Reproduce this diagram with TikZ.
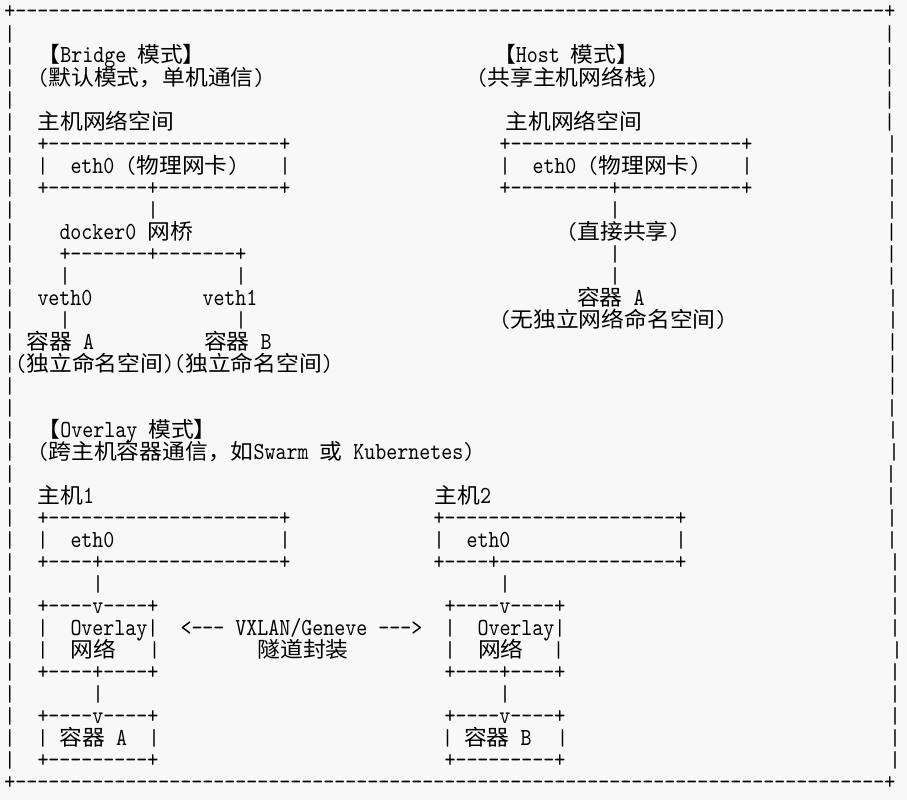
\documentclass[tikz,border=0pt]{standalone}
\usepackage{fontspec}
\usepackage{graphicx}
\newfontfamily\latf[FakeStretch=0.855,Ligatures=TeXOff]{lmmono10-regular.otf}
\newfontfamily\cjkf[FakeStretch=1.06]{Noto Sans CJK SC}
\newcommand\lat{\latf\fontsize{24.5pt}{24.5pt}\selectfont}
\newcommand\zh[1]{{\cjkf\fontsize{21.5pt}{21.5pt}\selectfont #1}}
\newcommand\spc{\hspace*{11pt}}
\newcommand\vb{\raisebox{-2pt}{\resizebox*{\width}{18pt}{\raisebox{\depth}{|}}}}
\ExplSyntaxOn
\NewDocumentCommand\dashes{m}{\prg_replicate:nn{#1}{-\kern0pt}}
\ExplSyntaxOff
\definecolor{bg}{RGB}{248,248,248}
\begin{document}
\begin{tikzpicture}[x=1pt,y=-1pt,tok/.style={anchor=base west,inner sep=0pt,outer sep=0pt,font=\lat}]
\fill[bg] (0,0) rectangle (907,800);
\useasboundingbox (0,0) rectangle (907,800);
% outer frame
\node[tok] (top) at (4.5,19) {+\dashes{79}+};
\foreach \r in {1,...,34} \node[tok] (L\r) at (4.5,{19+22*\r}) {\vb};
\foreach \r/\x in {1/889.5,2/889.5,3/889.5,4/889.5,5/889.5,6/892,7/892,8/892,9/892,10/891.5,11/891.5,12/891.5,13/893,14/893,15/892.5,16/892.5,17/892.5,18/892,19/893,20/894,21/891,22/891,23/892,24/892,25/895,26/895,27/895,28/895,29/897,30/895,31/895,32/895,33/895,34/895}
  \node[tok] (R\r) at ({\x-5.5},{19+22*\r}) {\vb};
\node[tok] (bot) at (4.5,789) {+\dashes{79}+};
% Bridge
\node[tok] (brT) at (37.5,63) {\zh{【}Bridge\spc\zh{模式】}};
\node[tok] (brS) at (37.5,85) {(\zh{默认模式，单机通信})};
\node[tok] (brNS) at (37.5,129) {\zh{主机网络空间}};
\node[tok] (brB1) at (37.5,151) {+\dashes{21}+};
\node[tok] (brB2l) at (37.5,173) {\vb};
\node[tok] (brEth) at (70.5,173) {eth0\spc(\zh{物理网卡})};
\node[tok] (brB2r) at (279.5,173) {\vb};
\node[tok] (brB3) at (37.5,195) {+\dashes{9}+\dashes{11}+};
\node[tok] (brV1) at (147.5,217) {\vb};
\node[tok] (brDk) at (59.5,239) {docker0\spc\zh{网桥}};
\node[tok] (brBus) at (59.5,261) {+\dashes{7}+\dashes{7}+};
\node[tok] (brV2) at (59.5,283) {\vb};
\node[tok] (brV3) at (235.5,283) {\vb};
\node[tok] (veth0) at (37.5,305) {veth0};
\node[tok] (veth1) at (202.5,305) {veth1};
\node[tok] (brV4) at (59.5,327) {\vb};
\node[tok] (brV5) at (235.5,327) {\vb};
\node[tok] (ctA) at (26.5,349) {\zh{容器}\spc A};
\node[tok] (ctB) at (204,349) {\zh{容器}\spc B};
\node[tok] (ns) at (15.5,371) {(\zh{独立命名空间})(\zh{独立命名空间})};
% Host
\node[tok] (hoT) at (493,63) {\zh{【}Host\spc\zh{模式】}};
\node[tok] (hoS) at (476.5,85) {(\zh{共享主机网络栈})};
\node[tok] (hoNS) at (505.5,129) {\zh{主机网络空间}};
\node[tok] (hoB1) at (499.5,151) {+\dashes{21}+};
\node[tok] (hoB2l) at (499.5,173) {\vb};
\node[tok] (hoEth) at (532.5,173) {eth0\spc(\zh{物理网卡})};
\node[tok] (hoB2r) at (741.5,173) {\vb};
\node[tok] (hoB3) at (499.5,195) {+\dashes{9}+\dashes{11}+};
\node[tok] (hoV1) at (609.5,217) {\vb};
\node[tok] (hoSh) at (566.5,239) {(\zh{直接共享})};
\node[tok] (hoV2) at (609.5,261) {\vb};
\node[tok] (hoV3) at (609.5,283) {\vb};
\node[tok] (hoCt) at (577,305) {\zh{容器}\spc A};
\node[tok] (hoNo) at (499.5,327) {(\zh{无独立网络命名空间})};
% Overlay
\node[tok] (ovT) at (37.5,437) {\zh{【}Overlay\spc\zh{模式】}};
\node[tok] (ovS) at (37.5,459) {(\zh{跨主机容器通信，如}Swarm\spc\zh{或}\spc Kubernetes)};
\node[tok] (h1) at (37.5,503) {\zh{主机}1};
\node[tok] (h2) at (434.5,503) {\zh{主机}2};
\node[tok] (h1b1) at (37.5,525) {+\dashes{21}+};
\node[tok] (h2b1) at (433.5,525) {+\dashes{21}+};
\node[tok] (h1l) at (37.5,547) {\vb};
\node[tok] (h1e) at (70.5,547) {eth0};
\node[tok] (h1r) at (279.5,547) {\vb};
\node[tok] (h2l) at (433.5,547) {\vb};
\node[tok] (h2e) at (466.5,547) {eth0};
\node[tok] (h2r) at (675.5,547) {\vb};
\node[tok] (h1b3) at (37.5,569) {+\dashes{4}+\dashes{16}+};
\node[tok] (h2b3) at (433.5,569) {+\dashes{4}+\dashes{16}+};
\node[tok] (h1v1) at (92.5,591) {\vb};
\node[tok] (h2v1) at (499.5,591) {\vb};
\node[tok] (o1t) at (37.5,613) {+\dashes{4}v\dashes{4}+};
\node[tok] (o2t) at (444.5,613) {+\dashes{4}v\dashes{4}+};
\node[tok] (o1l) at (37.5,635) {\vb};
\node[tok] (o1n) at (70.5,635) {Overlay\vb};
\node[tok] (tun) at (180.5,635) {<\dashes{3}\spc VXLAN/Geneve\spc\dashes{3}>};
\node[tok] (o2l) at (444.5,635) {\vb};
\node[tok] (o2n) at (477.5,635) {Overlay\vb};
\node[tok] (o1l2) at (37.5,657) {\vb};
\node[tok] (o1w) at (70.5,657) {\zh{网络}};
\node[tok] (o1r2) at (149,657) {\vb};
\node[tok] (tun2) at (257.5,657) {\zh{隧道封装}};
\node[tok] (o2l2) at (444.5,657) {\vb};
\node[tok] (o2w) at (478,657) {\zh{网络}};
\node[tok] (o2r2) at (553,657) {\vb};
\node[tok] (o1b) at (37.5,679) {+\dashes{4}+\dashes{4}+};
\node[tok] (o2b) at (444.5,679) {+\dashes{4}+\dashes{4}+};
\node[tok] (o1v) at (92.5,701) {\vb};
\node[tok] (o2v) at (499.5,701) {\vb};
\node[tok] (c1t) at (37.5,723) {+\dashes{4}v\dashes{4}+};
\node[tok] (c2t) at (444.5,723) {+\dashes{4}v\dashes{4}+};
\node[tok] (c1l) at (37.5,745) {\vb};
\node[tok] (c1n) at (59.5,745) {\zh{容器}\spc A};
\node[tok] (c1r) at (148.5,745) {\vb};
\node[tok] (c2l) at (442,745) {\vb};
\node[tok] (c2n) at (464,745) {\zh{容器}\spc B};
\node[tok] (c2r) at (557,745) {\vb};
\node[tok] (c1b) at (37.5,767) {+\dashes{9}+};
\node[tok] (c2b) at (444.5,767) {+\dashes{9}+};
\end{tikzpicture}
\end{document}
